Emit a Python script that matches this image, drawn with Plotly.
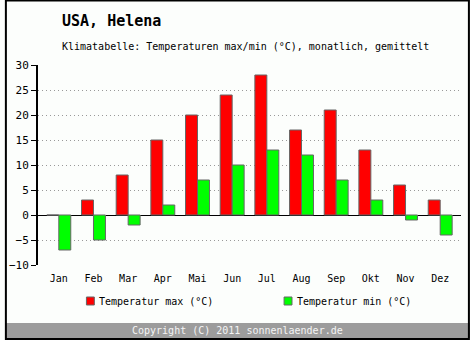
import plotly.graph_objects as go

months = ["Jan", "Feb", "Mar", "Apr", "Mai", "Jun", "Jul", "Aug", "Sep", "Okt", "Nov", "Dez"]
t_max = [0, 3, 8, 15, 20, 24, 28, 17, 21, 13, 6, 3]
t_min = [-7, -5, -2, 2, 7, 10, 13, 12, 7, 3, -1, -4]
y_ticks = [-10, -5, 0, 5, 10, 15, 20, 25, 30]

W, H = 470, 340
L, R, T, B = 33, 9, 65, 75
PW, PH = W - L - R, H - T - B

def px(x):
    return (x - L) / PW

def py(y):
    return (H - B - y) / PH

FONT = "DejaVu Sans Mono"

fig = go.Figure()
fig.add_trace(go.Bar(x=months, y=t_max, name="Temperatur max (°C)",
                     marker=dict(color="#ff0000", line=dict(color="#666666", width=1))))
fig.add_trace(go.Bar(x=months, y=t_min, name="Temperatur min (°C)",
                     marker=dict(color="#00ff00", line=dict(color="#666666", width=1))))

fig.update_layout(
    width=W, height=H,
    margin=dict(l=L, r=R, t=T, b=B),
    paper_bgcolor="#fcfefc", plot_bgcolor="#fcfefc",
    barmode="group", bargap=0.31, bargroupgap=0,
    showlegend=False,
    font=dict(family=FONT, size=10, color="#000000"),
)
fig.update_xaxes(range=[-0.6, 11.6], showgrid=False, showline=False, ticks="",
                 ticklabelstandoff=6, tickfont=dict(family=FONT, size=10))
fig.update_yaxes(range=[-10, 30], tickvals=y_ticks, showgrid=True, gridcolor="#999999",
                 griddash="1px,3px", gridwidth=1, zeroline=True, zerolinecolor="#000000",
                 zerolinewidth=1, showline=True, linecolor="#000000", linewidth=2,
                 ticks="outside", ticklen=5, tickcolor="#000000",
                 tickfont=dict(family=FONT, size=11))

shapes = []
shapes.append(dict(type="rect", xref="paper", yref="paper", x0=px(0), x1=px(W),
                   y0=py(338), y1=py(323), fillcolor="#9c9c9c", line=dict(width=0), layer="below"))
shapes.append(dict(type="rect", xref="paper", yref="paper", x0=px(0.5), x1=px(W - 1),
                   y0=py(H - 1), y1=py(0.5), line=dict(color="#000000", width=2)))
shapes.append(dict(type="rect", xref="paper", yref="paper", x0=px(82), x1=px(90),
                   y0=py(305), y1=py(297), fillcolor="#ff0000", line=dict(color="#666666", width=1)))
shapes.append(dict(type="rect", xref="paper", yref="paper", x0=px(282), x1=px(290),
                   y0=py(305), y1=py(297), fillcolor="#00ff00", line=dict(color="#666666", width=1)))
fig.update_layout(shapes=shapes)

ann = [
    dict(text="<b>USA, Helena</b>", x=px(55), y=py(21), xanchor="left", yanchor="middle",
         font=dict(family=FONT, size=15, color="#000000")),
    dict(text="Klimatabelle: Temperaturen max/min (°C), monatlich, gemittelt", x=px(55), y=py(47),
         xanchor="left", yanchor="middle", font=dict(family=FONT, size=10, color="#000000")),
    dict(text="Temperatur max (°C)", x=px(93), y=py(301), xanchor="left", yanchor="middle",
         font=dict(family=FONT, size=10, color="#000000")),
    dict(text="Temperatur min (°C)", x=px(293), y=py(301), xanchor="left", yanchor="middle",
         font=dict(family=FONT, size=10, color="#000000")),
    dict(text="Copyright (C) 2011 sonnenlaender.de", x=px(235), y=py(330), xanchor="center",
         yanchor="middle", font=dict(family=FONT, size=10, color="#f4f4f4")),
]
for a in ann:
    a.update(xref="paper", yref="paper", showarrow=False)
fig.update_layout(annotations=ann)

fig.write_html("out.html")
